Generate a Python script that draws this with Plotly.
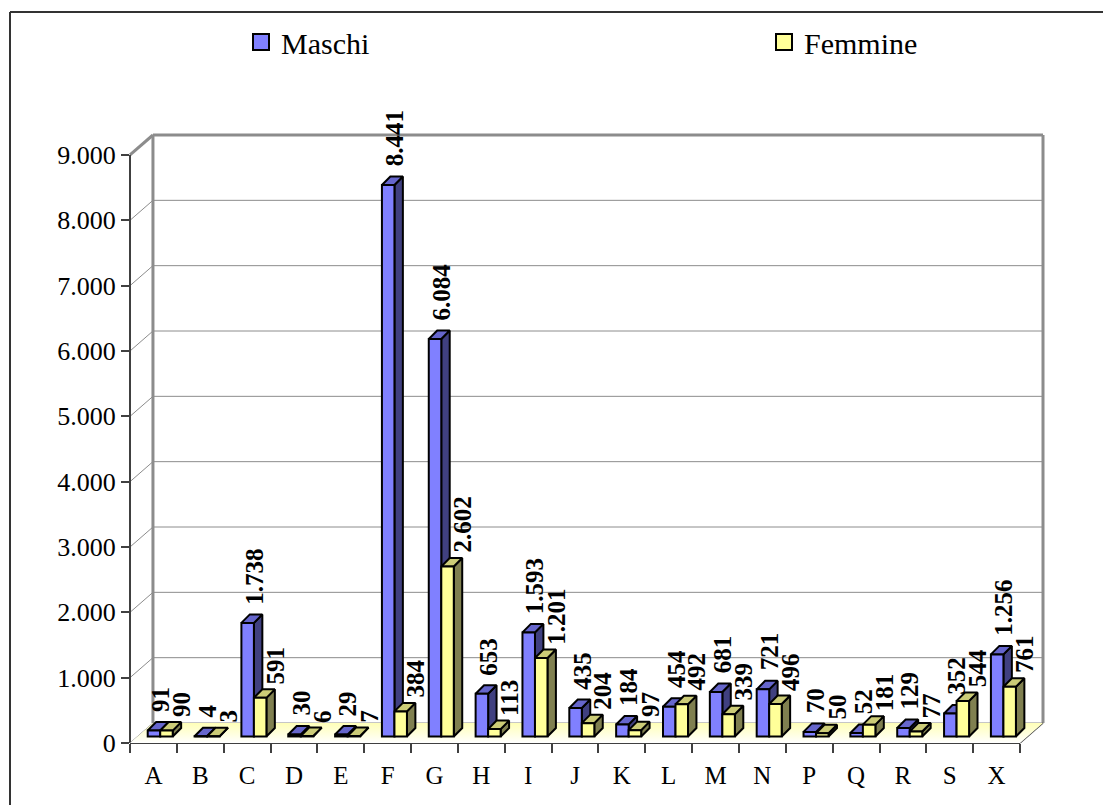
import plotly.graph_objects as go

# ---------------- data ----------------
categories = ["A", "B", "C", "D", "E", "F", "G", "H", "I", "J",
              "K", "L", "M", "N", "P", "Q", "R", "S", "X"]
maschi = [91, 4, 1738, 30, 29, 8441, 6084, 653, 1593, 435,
          184, 454, 681, 721, 70, 52, 129, 352, 1256]
femmine = [90, 3, 591, 6, 7, 384, 2602, 113, 1201, 204,
           97, 492, 339, 496, 50, 181, 77, 544, 761]
series_names = ["Maschi", "Femmine"]
y_ticks = [0, 1000, 2000, 3000, 4000, 5000, 6000, 7000, 8000, 9000]

# ---------------- styling / geometry ----------------
OFF = 8                 # page body margin of the html page
W, H = 1111 - OFF, 805 - OFF
ML, MR, MT, MB = 122, 68, 127, 62
PW, PH = W - ML - MR, H - MT - MB

N = len(categories)
WALL_DX = 0.49          # depth of the back wall (category units)
WALL_DY = 306           # depth of the back wall (value units)
X_MIN = -0.5
X_MAX = N - 0.5 + WALL_DX
Y_MAX = max(y_ticks) + WALL_DY

PAIR_OFF = 0.145        # pair centre offset from category centre
BAR_W = 0.267
BAR_BASE = 100
DEP_X = 0.18
DEP_Y = 130

FONT = "Liberation Serif"
COL = {
    "Maschi": {"front": "#8080FF", "top": "#6666CC", "side": "#404080"},
    "Femmine": {"front": "#FFFF99", "top": "#CCCC77", "side": "#808050"},
}
GRID = "#8c8c8c"
WALL = "#8c8c8c"
AXIS = "#404040"
EDGE = 2


def P(x, y):
    """data -> paper"""
    return (x - X_MIN) / (X_MAX - X_MIN), y / Y_MAX


def PX(px, py):
    """screen pixel -> paper"""
    return (px - OFF - ML) / PW, (H - MB - (py - OFF)) / PH


def line_shape(p0, p1, color, width):
    return dict(type="line", xref="paper", yref="paper",
                x0=p0[0], y0=p0[1], x1=p1[0], y1=p1[1],
                line=dict(color=color, width=width), layer="below")


fig = go.Figure()

# floor
fx = [X_MIN, N - 0.5, N - 0.5 + WALL_DX, X_MIN + WALL_DX, X_MIN]
fy = [0, 0, WALL_DY, WALL_DY, 0]
fig.add_trace(go.Scatter(
    x=fx, y=fy, mode="lines", fill="toself", line=dict(width=0),
    fillgradient=dict(type="vertical", start=0, stop=WALL_DY,
                      colorscale=[[0, "#ffffff"], [1, "#ffffb8"]]),
    hoverinfo="skip", showlegend=False))


def faces(values, left):
    sx, sy, tx, ty = [], [], [], []
    for i, v in enumerate(values):
        xl = i + PAIR_OFF - (BAR_W if left else 0)
        xr = xl + BAR_W
        b = BAR_BASE
        t = b + v
        sx += [xr, xr + DEP_X, xr + DEP_X, xr, xr, None]
        sy += [b, b + DEP_Y, t + DEP_Y, t, b, None]
        tx += [xl, xr, xr + DEP_X, xl + DEP_X, xl, None]
        ty += [t, t, t + DEP_Y, t + DEP_Y, t, None]
    return sx, sy, tx, ty


for name, vals, left in [("Maschi", maschi, True), ("Femmine", femmine, False)]:
    sx, sy, tx, ty = faces(vals, left)
    fig.add_trace(go.Scatter(x=sx, y=sy, mode="lines", fill="toself",
                             fillcolor=COL[name]["side"],
                             line=dict(color="black", width=EDGE),
                             hoverinfo="skip", showlegend=False))
    fig.add_trace(go.Scatter(x=tx, y=ty, mode="lines", fill="toself",
                             fillcolor=COL[name]["top"],
                             line=dict(color="black", width=EDGE),
                             hoverinfo="skip", showlegend=False))

# front faces (bars) on an overlaid subplot so they sit above side faces
for name, vals, left in [("Maschi", maschi, True), ("Femmine", femmine, False)]:
    fig.add_trace(go.Bar(
        x=list(range(N)), y=vals, base=BAR_BASE, width=BAR_W,
        offset=PAIR_OFF - (BAR_W if left else 0),
        marker=dict(color=COL[name]["front"], line=dict(color="black", width=EDGE)),
        name=name, showlegend=False, xaxis="x2", yaxis="y2"))

# legend entries (one legend per series, placed like the original)
for name, lg in zip(series_names, ["legend", "legend2"]):
    fig.add_trace(go.Scatter(
        x=[None], y=[None], mode="markers", name=name, legend=lg,
        marker=dict(symbol="square", size=16, color=COL[name]["front"],
                    line=dict(color="black", width=2))))

# value labels
ann = []
for i, (m, f) in enumerate(zip(maschi, femmine)):
    ann.append(dict(x=i + PAIR_OFF - BAR_W / 2 + 0.14, y=BAR_BASE + m + DEP_Y,
                    xref="x", yref="y", text="<b>%s</b>" % f"{m:,}".replace(",", "."),
                    showarrow=False, textangle=-90, xanchor="center",
                    yanchor="bottom", yshift=8,
                    font=dict(family=FONT, size=25, color="black")))
    ann.append(dict(x=i + PAIR_OFF + BAR_W / 2 + 0.32, y=BAR_BASE + f + DEP_Y,
                    xref="x", yref="y", text="<b>%s</b>" % f"{f:,}".replace(",", "."),
                    showarrow=False, textangle=-90, xanchor="center",
                    yanchor="bottom", yshift=3,
                    font=dict(family=FONT, size=25, color="black")))

# walls, gridlines, axes lines
shapes = []
for v in y_ticks:
    shapes.append(line_shape(P(X_MIN, v), P(X_MIN + WALL_DX, v + WALL_DY), GRID, 1))
    if v != max(y_ticks):
        shapes.append(line_shape(P(X_MIN + WALL_DX, v + WALL_DY), P(X_MAX, v + WALL_DY), GRID, 1))
shapes.append(line_shape(P(X_MIN + WALL_DX, WALL_DY), P(X_MIN + WALL_DX, Y_MAX), WALL, 3))
shapes.append(line_shape(P(X_MIN + WALL_DX, Y_MAX), P(X_MAX, Y_MAX), WALL, 3))
shapes.append(line_shape(P(X_MAX, WALL_DY), P(X_MAX, Y_MAX), WALL, 3))
shapes.append(line_shape(P(X_MIN, max(y_ticks)), P(X_MIN + WALL_DX, Y_MAX), WALL, 3))
shapes.append(line_shape(P(X_MIN, 0), P(X_MIN, max(y_ticks)), AXIS, 2))
shapes.append(line_shape(P(X_MIN, 0), P(N - 0.5, 0), AXIS, 2))
shapes.append(line_shape(P(N - 0.5, 0), P(X_MAX, WALL_DY), AXIS, 1.5))
# chart border
shapes.append(line_shape(PX(10, 12), PX(1120, 12), "#333333", 2))
shapes.append(line_shape(PX(10, 12), PX(10, 815), "#333333", 2))

legend_common = dict(orientation="h", xanchor="left", yanchor="middle",
                     font=dict(family=FONT, size=30), itemsizing="trace",
                     bgcolor="rgba(0,0,0,0)")

fig.update_layout(
    width=W, height=H,
    margin=dict(l=ML, r=MR, t=MT, b=MB, pad=0, autoexpand=False),
    paper_bgcolor="white", plot_bgcolor="rgba(0,0,0,0)",
    separators=",.",
    font=dict(family=FONT, color="black"),
    barmode="overlay",
    showlegend=True,
    legend=dict(x=PX(241, 0)[0], y=PX(0, 42)[1], **legend_common),
    legend2=dict(x=PX(764, 0)[0], y=PX(0, 42)[1], **legend_common),
    xaxis=dict(range=[X_MIN, X_MAX], tickvals=list(range(N)), ticktext=categories,
               ticks="", showgrid=False, zeroline=False, showline=False,
               tickfont=dict(size=25), fixedrange=True, automargin=False,
               ticklabelstandoff=15),
    yaxis=dict(range=[0, Y_MAX], tickvals=y_ticks, tickformat=",d",
               ticks="outside", ticklen=8, tickwidth=2, tickcolor=AXIS,
               showgrid=False, zeroline=False, showline=False,
               tickfont=dict(size=26), fixedrange=True, automargin=False),
    xaxis2=dict(range=[X_MIN, X_MAX], overlaying="x", anchor="y2",
                tickvals=[i - 0.5 for i in range(N + 1)], ticks="outside",
                ticklen=9, tickwidth=1.5, tickcolor=AXIS, showticklabels=False,
                showgrid=False, zeroline=False, showline=False),
    yaxis2=dict(range=[0, Y_MAX], overlaying="y", visible=False),
    shapes=shapes,
    annotations=ann,
)

fig.write_html("out.html")
